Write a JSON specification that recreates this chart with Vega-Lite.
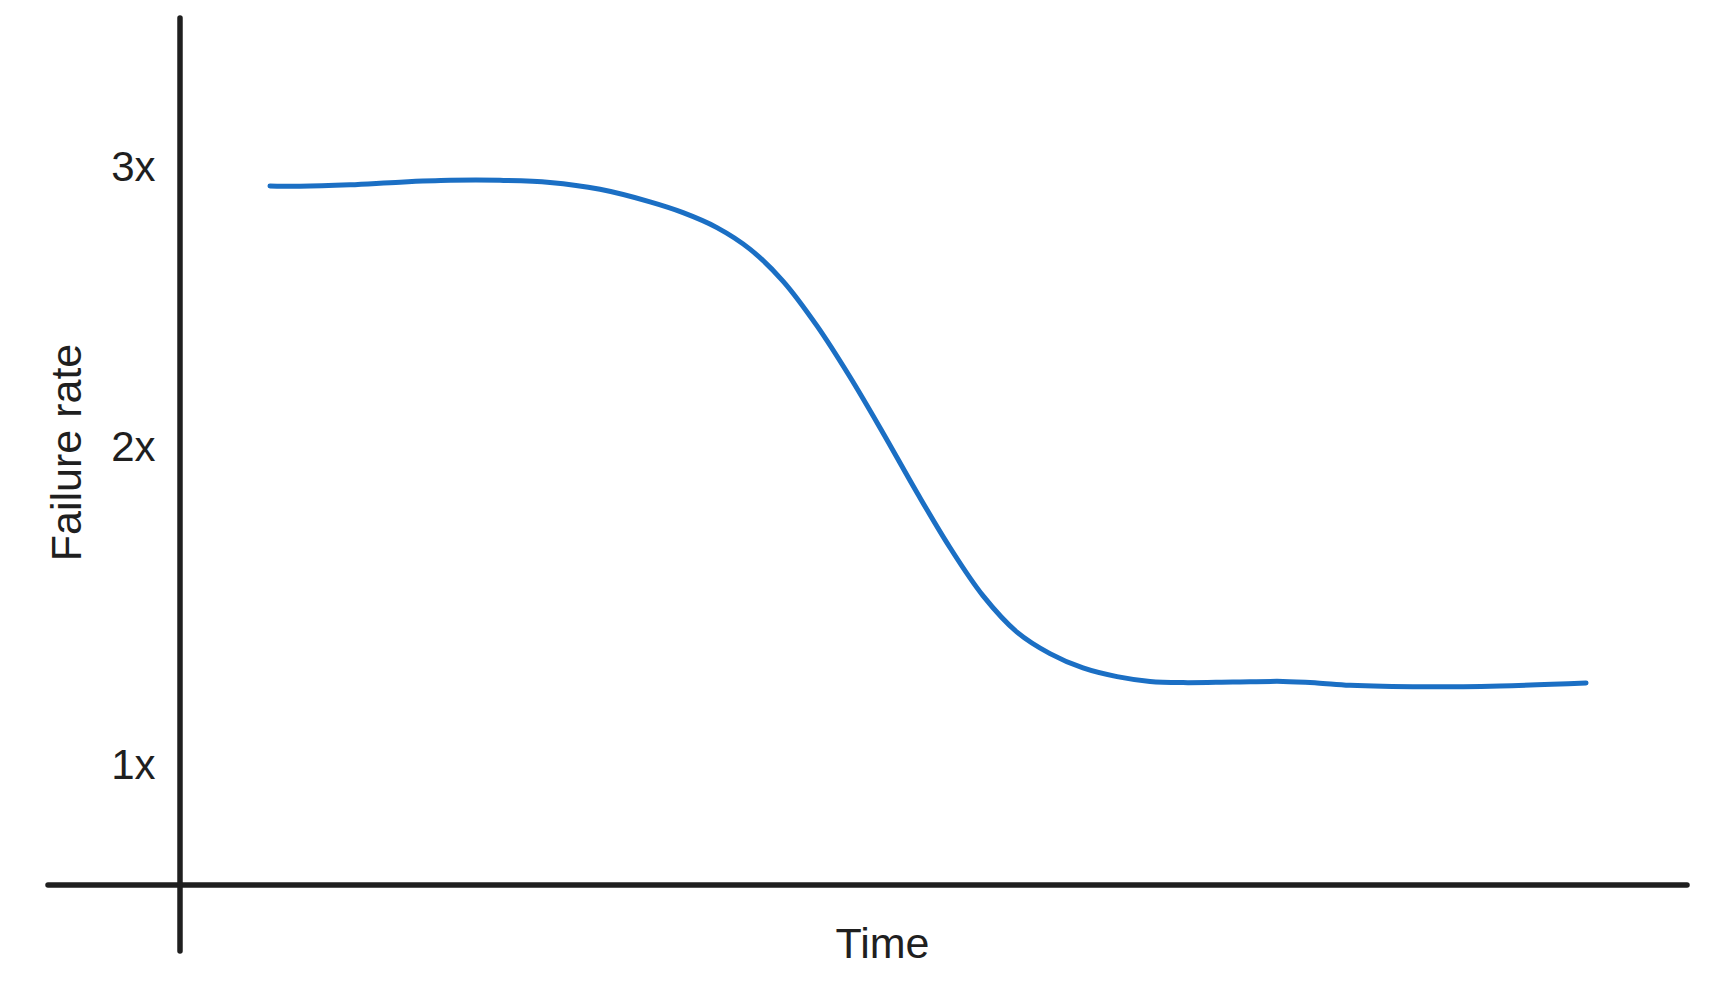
{
  "$schema": "https://vega.github.io/schema/vega-lite/v6.json",
  "width": 1507,
  "height": 867,
  "autosize": {"type": "none"},
  "padding": {"left": 180, "top": 18, "right": 27, "bottom": 105},
  "background": "white",
  "config": {
    "view": {"stroke": null},
    "font": "Liberation Sans",
    "axis": {"grid": false, "domain": false, "ticks": false, "tickSize": 0}
  },
  "datasets": {
    "curve": [
      {"time": 5.97, "rate": 2.938},
      {"time": 7.96, "rate": 2.937},
      {"time": 11.28, "rate": 2.942},
      {"time": 14.6, "rate": 2.951},
      {"time": 17.92, "rate": 2.957},
      {"time": 21.23, "rate": 2.957},
      {"time": 24.55, "rate": 2.95},
      {"time": 27.87, "rate": 2.927},
      {"time": 31.19, "rate": 2.885},
      {"time": 33.38, "rate": 2.849},
      {"time": 35.63, "rate": 2.799},
      {"time": 37.82, "rate": 2.727},
      {"time": 40.01, "rate": 2.62},
      {"time": 42.27, "rate": 2.47},
      {"time": 44.46, "rate": 2.299},
      {"time": 46.65, "rate": 2.112},
      {"time": 48.91, "rate": 1.912},
      {"time": 51.1, "rate": 1.728},
      {"time": 53.28, "rate": 1.568},
      {"time": 55.54, "rate": 1.446},
      {"time": 57.73, "rate": 1.374},
      {"time": 59.92, "rate": 1.326},
      {"time": 62.18, "rate": 1.297},
      {"time": 64.37, "rate": 1.281},
      {"time": 66.56, "rate": 1.277},
      {"time": 69.87, "rate": 1.279},
      {"time": 73.19, "rate": 1.281},
      {"time": 75.45, "rate": 1.276},
      {"time": 77.64, "rate": 1.268},
      {"time": 82.55, "rate": 1.263},
      {"time": 87.59, "rate": 1.266},
      {"time": 93.3, "rate": 1.276}
    ],
    "axes": [
      {"name": "time axis", "time": -8.76, "time2": 100, "rate": 0.6, "rate2": 0.6},
      {"name": "rate axis", "time": 0, "time2": 0, "rate": 0.379, "rate2": 3.5}
    ]
  },
  "layer": [
    {
      "data": {"name": "axes"},
      "mark": {"type": "rule", "color": "#1f1f1f", "strokeWidth": 5.5, "strokeCap": "round"},
      "encoding": {
        "x": {
          "field": "time", "type": "quantitative",
          "scale": {"domain": [0, 100], "nice": false, "zero": false},
          "axis": {"title": "Time", "labels": false, "titleFontSize": 43, "titleFontWeight": "normal", "titleColor": "#1f1f1f", "titleX": 702, "titleY": 72, "titleBaseline": "alphabetic", "titleAlign": "center"}
        },
        "x2": {"field": "time2"},
        "y": {
          "field": "rate", "type": "quantitative",
          "scale": {"domain": [0.6, 3.5], "nice": false, "zero": false},
          "axis": {"title": "Failure rate", "values": [1, 2.062, 3], "labelExpr": "datum.value < 1.5 ? '1x' : (datum.value < 2.5 ? '2x' : '3x')", "labelFontSize": 42, "labelColor": "#1f1f1f", "labelPadding": 25, "labelBaseline": "middle", "titleFontSize": 43, "titleFontWeight": "normal", "titleColor": "#1f1f1f", "titleX": -100, "titleY": 434, "titleBaseline": "alphabetic", "titleAlign": "center", "titleAngle": 270}
        },
        "y2": {"field": "rate2"}
      }
    },
    {
      "data": {"name": "curve"},
      "mark": {"type": "line", "color": "#1b6fc4", "strokeWidth": 5, "strokeCap": "round", "interpolate": "catmull-rom"},
      "encoding": {
        "x": {
          "field": "time", "type": "quantitative",
          "scale": {"domain": [0, 100], "nice": false, "zero": false},
          "axis": {"title": "Time", "labels": false, "titleFontSize": 43, "titleFontWeight": "normal", "titleColor": "#1f1f1f", "titleX": 702, "titleY": 72, "titleBaseline": "alphabetic", "titleAlign": "center"}
        },
        "y": {
          "field": "rate", "type": "quantitative",
          "scale": {"domain": [0.6, 3.5], "nice": false, "zero": false},
          "axis": {"title": "Failure rate", "values": [1, 2.062, 3], "labelExpr": "datum.value < 1.5 ? '1x' : (datum.value < 2.5 ? '2x' : '3x')", "labelFontSize": 42, "labelColor": "#1f1f1f", "labelPadding": 25, "labelBaseline": "middle", "titleFontSize": 43, "titleFontWeight": "normal", "titleColor": "#1f1f1f", "titleX": -100, "titleY": 434, "titleBaseline": "alphabetic", "titleAlign": "center", "titleAngle": 270}
        }
      }
    }
  ]
}
